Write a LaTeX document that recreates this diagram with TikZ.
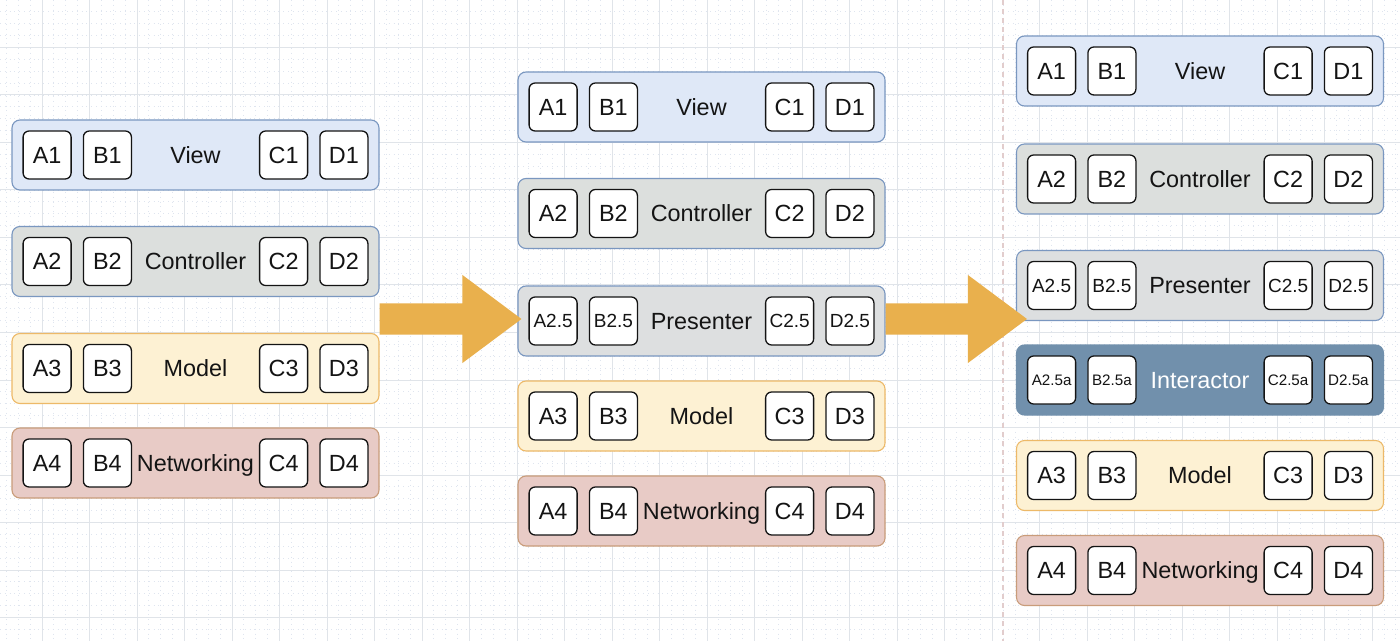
\documentclass[tikz,border=0pt]{standalone}
\usepackage{fontspec}
\setmainfont{Liberation Sans}
\usetikzlibrary{positioning,calc}
\definecolor{gridmajor}{HTML}{E0E4E9}
\definecolor{gridminor}{HTML}{DFE5EF}
\definecolor{pagecut}{HTML}{E2CDCD}
\definecolor{viewfill}{HTML}{DFE8F7}
\definecolor{viewline}{HTML}{7A97C0}
\definecolor{ctrlfill}{HTML}{DCDFDD}
\definecolor{presfill}{HTML}{DDDFE0}
\definecolor{interfill}{HTML}{7190AC}
\definecolor{modelfill}{HTML}{FDF1D3}
\definecolor{modelline}{HTML}{EDB968}
\definecolor{netfill}{HTML}{E8CBC6}
\definecolor{netline}{HTML}{C99C7A}
\definecolor{arrowfill}{HTML}{E9B04D}
\definecolor{inktext}{HTML}{141414}
\tikzset{
    layer/.style = {
        draw,
        shape=rectangle,
        rounded corners=4pt,
        minimum height=35pt,
        minimum width=183.5pt,
        inner sep=0pt,
        text depth=0pt,
        line width=0.55pt,
        text=inktext,
        font=\fontsize{11.7}{14}\selectfont
    },
    cell/.style = {
        draw=inktext,
        fill=white,
        shape=rectangle,
        rounded corners=3pt,
        minimum height=24pt,
        minimum width=24pt,
        inner sep=0pt,
        text depth=0pt,
        line width=0.65pt,
        text=inktext
    },
    viewlayer/.style = {fill=viewfill, draw=viewline},
    ctrllayer/.style = {fill=ctrlfill, draw=viewline},
    preslayer/.style = {fill=presfill, draw=viewline},
    interlayer/.style = {fill=interfill, draw=interfill, text=white},
    modellayer/.style = {fill=modelfill, draw=modelline},
    netlayer/.style = {fill=netfill, draw=netline},
    bigarrow/.style = {fill=arrowfill},
    majorline/.style = {draw=gridmajor, line width=0.5pt},
    minorline/.style = {draw=gridminor, line width=0.4pt, dotted},
    cutline/.style = {draw=pagecut, line width=0.6pt, dash pattern=on 2.5pt off 2pt},
}
% one layer: name, x, y, style, label, cell suffix, cell font size
\newcommand{\layer}[7]{%
    \node[layer, #4] (#1) at (#2,#3) {#5};
    \node[cell, font=\fontsize{#7}{#7}\selectfont, right=5.5pt of #1.west] (#1a) {A#6};
    \node[cell, font=\fontsize{#7}{#7}\selectfont, right=5.5pt of #1a] (#1b) {B#6};
    \node[cell, font=\fontsize{#7}{#7}\selectfont, left=5.5pt of #1.east] (#1d) {D#6};
    \node[cell, font=\fontsize{#7}{#7}\selectfont, left=5.5pt of #1d] (#1c) {C#6};
}

\begin{document}
\begin{tikzpicture}[x=0.5pt, y=-0.5pt]
    \useasboundingbox (0,0) rectangle (1400,641);
    \fill[white] (0,0) rectangle (1400,641);

    % grid paper
    \begin{scope}
        \clip (0,0) rectangle (1400,641);
        \foreach \k in {0,...,118}
            \draw[minorline] ({-5.5+\k*11.875},0) -- ({-5.5+\k*11.875},641);
        \foreach \k in {1,...,53}
            \draw[minorline] (0,{\k*11.875}) -- (1400,{\k*11.875});
        \foreach \k in {1,...,29}
            \draw[majorline] ({-5.5+\k*47.5},0) -- ({-5.5+\k*47.5},641);
        \foreach \k in {0,...,13}
            \draw[majorline] (0,{\k*47.5}) -- (1400,{\k*47.5});
        \draw[cutline] (1003,0) -- (1003,641);
    \end{scope}

    % first column
    \layer{v1}{195.5}{155}{viewlayer}{View}{1}{11.7}
    \layer{c1}{195.5}{261.5}{ctrllayer}{Controller}{2}{11.7}
    \layer{m1}{195.5}{368.5}{modellayer}{Model}{3}{11.7}
    \layer{n1}{195.5}{463}{netlayer}{Networking}{4}{11.7}

    % second column
    \layer{v2}{701.5}{107}{viewlayer}{View}{1}{11.7}
    \layer{c2}{701.5}{213.5}{ctrllayer}{Controller}{2}{11.7}
    \layer{p2}{701.5}{321}{preslayer}{Presenter}{2.5}{9.5}
    \layer{m2}{701.5}{416}{modellayer}{Model}{3}{11.7}
    \layer{n2}{701.5}{511}{netlayer}{Networking}{4}{11.7}

    % third column
    \layer{v3}{1200}{71}{viewlayer}{View}{1}{11.7}
    \layer{c3}{1200}{179}{ctrllayer}{Controller}{2}{11.7}
    \layer{p3}{1200}{285.5}{preslayer}{Presenter}{2.5}{9.5}
    \layer{i3}{1200}{380}{interlayer}{Interactor}{2.5a}{7.6}
    \layer{m3}{1200}{475.5}{modellayer}{Model}{3}{11.7}
    \layer{n3}{1200}{570.5}{netlayer}{Networking}{4}{11.7}

    % big arrows
    \coordinate (g1s) at ($(c1.east |- p2.west)+(0,-2)$);
    \coordinate (g1e) at ($(p2.west)+(4,-2)$);
    \coordinate (g2s) at ($(p2.east)+(0,-2)$);
    \coordinate (g2e) at ($(p3.west |- p2.west)+(11,-2)$);
    \foreach \s/\e in {g1s/g1e, g2s/g2e}
        \path[bigarrow] ($(\s)+(0,-15.5)$) -- ($(\e)+(-59,-15.5)$) -- ($(\e)+(-59,-44)$)
            -- (\e) -- ($(\e)+(-59,44)$) -- ($(\e)+(-59,15.5)$) -- ($(\s)+(0,15.5)$) -- cycle;
\end{tikzpicture}
\end{document}
